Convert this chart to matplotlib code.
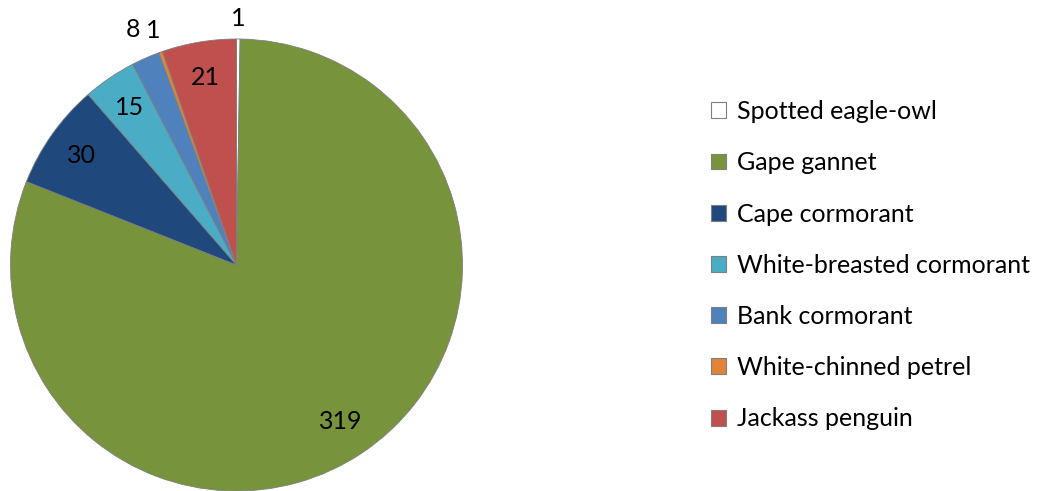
import numpy as np
import matplotlib.pyplot as plt
from matplotlib.patches import Patch

plt.rcParams['font.family'] = ['Lato', 'DejaVu Sans']

species = ['Spotted eagle-owl', 'Gape gannet', 'Cape cormorant',
           'White-breasted cormorant', 'Bank cormorant',
           'White-chinned petrel', 'Jackass penguin']
counts = [1, 319, 30, 15, 8, 1, 21]
colors = ['#FFFFFF', '#77933C', '#1F497D', '#4BACC6', '#4F81BD', '#E0843A', '#C0504D']
# small slices get their number outside the pie
label_dist = [1.09, 0.83, 0.84, 0.84, 1.14, 1.10, 0.84]

fig = plt.figure(figsize=(10.51, 4.91), dpi=100)
W, H = 1051, 491
cx, cy, r = 236.5, 265, 226
ax = fig.add_axes([(cx - r) / W, (H - cy - r) / H, 2 * r / W, 2 * r / H])

wedges, _ = ax.pie(counts, colors=colors, startangle=90, counterclock=False,
                   radius=1, wedgeprops=dict(edgecolor='#7f7f7f', linewidth=0.6))
ax.set_xlim(-1, 1)
ax.set_ylim(-1, 1)
ax.set_aspect('auto')
ax.axis('off')

for w, n, d in zip(wedges, counts, label_dist):
    ang = np.deg2rad((w.theta1 + w.theta2) / 2)
    ax.text(d * np.cos(ang), d * np.sin(ang), str(n), ha='center', va='center',
            fontsize=18, color='black', clip_on=False)

handles = [Patch(facecolor=c, edgecolor='#7f7f7f', linewidth=0.8) for c in colors]
fig.legend(handles, species, loc='upper left', bbox_to_anchor=(701 / W, 1 - 90 / H),
           frameon=False, fontsize=18, handlelength=0.6, handleheight=0.6,
           handletextpad=0.45, labelspacing=1.13, borderaxespad=0)

fig.savefig('out.png', dpi=100)
